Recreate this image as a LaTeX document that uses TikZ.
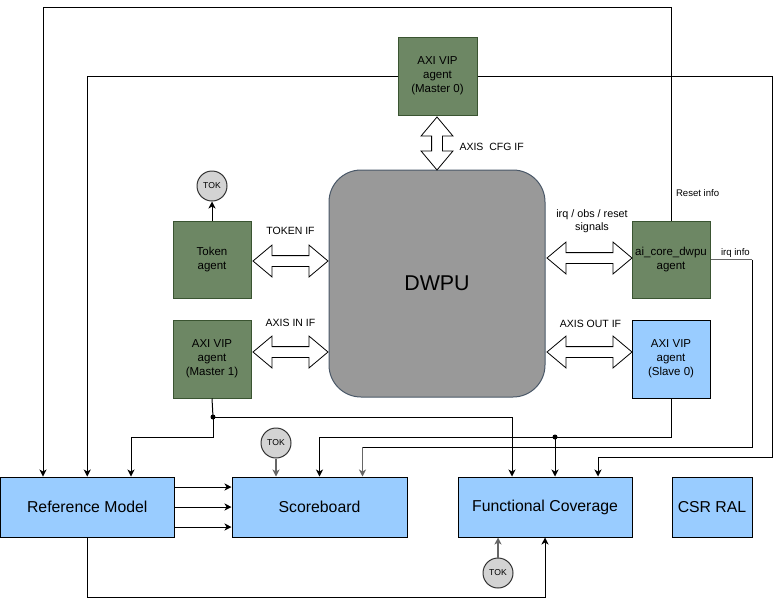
\documentclass[tikz,border=0pt]{standalone}
\usepackage{fontspec}
\setmainfont{Liberation Sans}
\usetikzlibrary{arrows.meta,positioning,shapes.arrows,calc}
\definecolor{agentfill}{HTML}{6D8764}
\definecolor{agentline}{HTML}{3A5431}
\definecolor{tbfill}{HTML}{99CCFF}
\definecolor{dutfill}{HTML}{999999}
\definecolor{dutline}{HTML}{4A5868}
\definecolor{tokfill}{HTML}{D3D3D3}
\definecolor{linkgray}{HTML}{666666}
\newcommand{\fs}[1]{\fontsize{#1}{\dimexpr #1pt*6/5\relax}\selectfont}

\begin{document}
\begin{tikzpicture}[x=1pt,y=-1pt,line width=1pt,
		agent/.style={draw=agentline,fill=agentfill,minimum width=78pt,minimum height=77pt,align=center,font=\fs{11.5},inner sep=0pt},
		slave/.style={agent,draw=black,fill=tbfill},
		tbbox/.style={draw=black,fill=tbfill,minimum height=60pt,font=\fs{15.8},inner sep=0pt},
		tok/.style={circle,draw=black!80,fill=tokfill,minimum size=30pt,inner sep=0pt,font=\fs{8.6}},
		iface/.style={shape=double arrow,draw=black,fill=white,line width=0.8pt,inner xsep=0pt,inner ysep=5pt,
			double arrow head extend=10.5pt,double arrow tip angle=80,minimum height=#1},
		lbl/.style={font=\fs{10.5},inner sep=0pt,align=center},
		link/.style={-{Stealth[length=7pt,width=7pt,inset=2pt]}},
		graylink/.style={link,draw=linkgray,line width=1.3pt},
		dot/.style={circle,fill=black,inner sep=0pt,minimum size=5pt}]
	\useasboundingbox (0,0) rectangle (781,606);
	% DUT and agents
	\node[draw=dutline,fill=dutfill,rounded corners=32pt,minimum width=216pt,minimum height=227pt,font=\fs{21.4}] (dwpu) at (437,283.5) {DWPU};
	\node[agent,minimum width=79pt,minimum height=78pt] (m0) at (437.5,76) {AXI VIP\\agent\\(Master 0)};
	\node[agent] (tokag) at (212,259.5) {Token\\agent};
	\node[agent,below=21pt of tokag,minimum height=78pt] (m1) {AXI VIP\\agent\\(Master 1)};
	\node[agent] (aicore) at (671,259.5) {ai\_core\_dwpu\\agent};
	\node[slave,below=21pt of aicore,minimum height=78pt] (s0) {AXI VIP\\agent\\(Slave 0)};
	% testbench components
	\node[tbbox,minimum width=173.5pt] (refm) at (87.25,507) {Reference Model};
	\node[tbbox,minimum width=175pt] (sb) at (319.5,507) {Scoreboard};
	\node[tbbox,minimum width=174pt] (fc) at (545,507) {Functional Coverage};
	\node[tbbox,minimum width=80pt] (csr) at (712,507) {CSR RAL};
	\node[tok] (tok1) at (212,186) {TOK};
	\node[tok] (tok2) at (276,443) {TOK};
	\node[tok] (tok3) at (498,573) {TOK};
	% interfaces
	\node[iface=53pt,rotate=90] (cfgif) at (437,143.5) {};
	\node[iface=75pt] (tokif) at (290.5,261) {};
	\node[iface=75pt] (inif) at (290.5,352) {};
	\node[iface=85pt] (irqif) at (589.5,258) {};
	\node[iface=85pt] (outif) at (589.5,352) {};
	\node[lbl,anchor=west] (cfglbl) at (459,147) {AXIS\ \ CFG IF};
	\node[lbl] (toklbl) at (290.5,231) {TOKEN IF};
	\node[lbl] (inlbl) at (290.5,322.5) {AXIS IN IF};
	\node[lbl,font=\fs{10.8},inner sep=0pt] (irqlbl) at (592,221) {irq / obs / reset\\signals};
	\node[lbl] (outlbl) at (590.5,323.5) {AXIS OUT IF};
	\node[lbl,anchor=west,font=\fs{9.6}] (rstlbl) at (675.5,193.5) {Reset info};
	\node[lbl,anchor=west,font=\fs{9.6}] (irqinfo) at (720.5,253.5) {irq info};
	%
	\coordinate (topR) at (671,7);
	\coordinate (topL) at (43,7);
	\coordinate (m0r) at (772,76);
	\coordinate (m0rb) at (772,457);
	\coordinate (irqa) at (752,259.5);
	\coordinate (irqb) at (752,447);
	\coordinate (irqc) at (362.5,447);
	\coordinate (bot) at (545,597);
	\node[dot] (d1) at (213,417) {};
	\node[dot] (d2) at (555,437) {};
	% connections
	\draw[link] (aicore.north) -- (topR) -- (topL) -- (topL |- refm.north);
	\draw[link] (m0.west) -| (refm.north);
	\draw[link] (m0.east) -- (m0r) -- (m0rb) -| ([xshift=53pt]fc.north);
	\draw[draw=linkgray,line width=1.3pt] (aicore.east) -- (irqa);
	\draw (irqa) -- (irqb) -- (irqc);
	\draw[graylink] (irqc) -- (irqc |- sb.north);
	\draw (m1.south) -- (d1.center);
	\draw[link] (d1.center) |- (213,437) -| ([xshift=43.75pt]refm.north);
	\draw[link] (d1.center) -| ([xshift=-33pt]fc.north);
	\draw[link] (s0.south) |- (d2.center) -| (sb.north);
	\draw[link] (d2.center) -- (d2 |- fc.north);
	\draw[graylink] (tok2) -- (tok2 |- sb.north);
	\foreach \dy in {-20,0,20}
		\draw[link] ([yshift=\dy pt]refm.east) -- ([yshift=\dy pt]sb.west);
	\draw[link] (refm.south) |- (bot) -- (fc.south);
	\draw[graylink] (tok3) -- (tok3 |- fc.south);
	\draw[link] (tokag.north) -- (tok1);
\end{tikzpicture}
\end{document}
